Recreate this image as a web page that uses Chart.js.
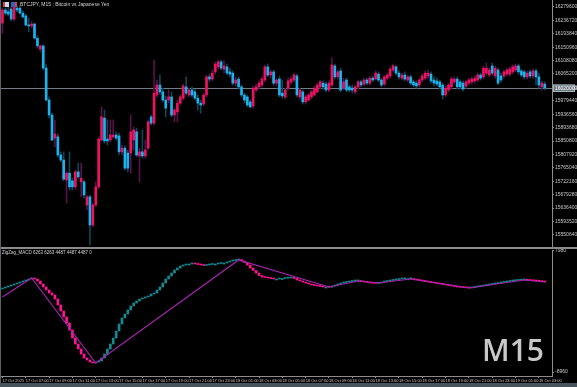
<!DOCTYPE html>
<html><head><meta charset="utf-8">
<script src="https://cdn.jsdelivr.net/npm/chart.js@4.4.1/dist/chart.umd.min.js"></script>
<style>
html,body{margin:0;padding:0;background:#000;width:577px;height:387px;overflow:hidden;}
#wrap{position:relative;width:577px;height:387px;background:#48545b;}
canvas{position:absolute;left:0;display:block;background:#000;}
#c1{top:0;} #c2{top:249px;}
.txt{position:absolute;font-family:"Liberation Sans",Arial,sans-serif;color:#d2d2d2;white-space:nowrap;line-height:1;}
</style></head>
<body><div id="wrap">
<canvas id="c1" width="577" height="247"></canvas>
<div style="position:absolute;left:0;top:247px;width:577px;height:2px;background:#8a8a8a;"></div>
<canvas id="c2" width="577" height="134"></canvas>
<div style="position:absolute;left:0;top:0;width:1px;height:383px;background:#5a6268;"></div>
<div style="position:absolute;left:3px;top:2px;width:6px;height:5px;background:#c8d8e8;border-left:2px solid #d04040;box-sizing:border-box;"></div>
<div style="position:absolute;left:11px;top:2px;width:6px;height:5px;background:#3060c0;border-right:2px solid #e04040;box-sizing:border-box;"></div>
<div class="txt" style="left:20px;top:2px;font-size:5px;">BTCJPY, M15 : Bitcoin vs Japanese Yen</div>
<div class="txt" style="left:2px;top:251px;font-size:4.5px;">ZigZag_MACD 6263 6263 4487 4487 4487 0</div>
<div class="txt" style="left:482px;top:335px;font-family:'Open Sans',sans-serif;font-weight:600;font-size:30px;line-height:30px;color:#c8c8c8;">M15</div>
</div>
<script>
// ---- price data (thousand JPY) ----
const opens = [16228,16270,16264,16273,16241,16276,16276,16260,16251,16222,
16219,16225,16180,16145,16155,16084,15982,15934,15860,15864,
15806,15790,15726,15748,15723,15704,15752,15720,15720,15646,
15672,15582,15646,15704,15854,15924,15857,15854,15864,15870,
15867,15816,15828,15812,15812,15854,15880,15803,15816,15803,
15828,15928,15908,15998,16030,16008,15982,15982,15992,15934,
15944,15972,15988,16024,15998,16014,16008,15988,15972,15969,
15998,16056,16049,16072,16088,16104,16081,16088,16072,16068,
16036,16049,16024,15998,15992,15976,15963,16014,16024,16030,
16046,16088,16062,16072,16036,16049,16004,15992,16020,16040,
16046,16059,15992,16008,15976,15982,15992,15998,16008,16024,
16036,16033,16014,16030,16091,16056,16075,16020,16046,16024,
16020,16008,16024,16040,16033,16046,16036,16052,16049,16065,
16046,16033,16052,16059,16078,16088,16068,16052,16062,16046,
16056,16040,16036,16030,16046,16052,16059,16065,16046,16043,
16040,16030,15998,16014,16024,16040,16049,16040,16036,16027,
16036,16040,16043,16046,16062,16056,16068,16062,16091,16059,
16078,16059,16059,16065,16065,16072,16078,16091,16075,16072,
16056,16072,16059,16075,16056,16024,16033];
const closes = [16270,16260,16257,16241,16280,16270,16260,16248,16222,16219,
16225,16180,16155,16155,16084,15982,15934,15854,15873,15806,
15790,15729,15748,15704,15704,15752,15736,15732,15678,15672,
15582,15646,15704,15857,15928,15851,15851,15870,15870,15860,
15816,15828,15764,15764,15880,15886,15806,15816,15803,15822,
15912,15908,16004,16030,16008,15982,15956,15992,15934,15950,
15972,15992,16027,16004,16014,15998,15988,15972,15966,15998,
16056,16049,16068,16097,16104,16084,16091,16068,16065,16036,
16046,16024,15998,15982,15966,15960,16020,16024,16036,16049,
16088,16062,16072,16036,16046,15998,15995,16014,16043,16049,
16062,15998,16014,15976,15992,15998,16008,16020,16030,16040,
16024,16014,16036,16094,16056,16072,16014,16040,16014,16014,
16014,16024,16040,16030,16046,16036,16052,16046,16068,16046,
16030,16056,16062,16081,16091,16068,16056,16062,16049,16056,
16036,16030,16027,16046,16059,16068,16068,16043,16036,16033,
16024,15998,16020,16030,16049,16049,16024,16024,16017,16040,
16046,16049,16052,16062,16052,16084,16084,16078,16068,16084,
16036,16046,16072,16078,16081,16088,16091,16072,16062,16056,
16068,16059,16075,16056,16030,16036,16020];
const highs = [16276,16276,16280,16280,16286,16283,16283,16267,16257,16244,
16235,16228,16187,16158,16158,16097,15992,15940,15918,15873,
15816,15816,15752,15816,15732,15758,15780,15780,15726,15678,
15678,15652,15720,15864,15960,15950,15918,15918,15918,15880,
15876,15838,15835,15822,15934,15896,15892,15828,15886,15854,
15918,15934,16110,16046,16062,16020,15995,16014,16008,15956,
15982,15998,16033,16056,16020,16024,16017,15998,15982,16004,
16062,16065,16078,16104,16110,16110,16107,16097,16084,16075,
16056,16056,16030,16004,15998,15982,16027,16033,16043,16056,
16094,16097,16078,16078,16052,16059,16046,16020,16052,16056,
16068,16065,16020,16014,15998,16004,16014,16027,16036,16046,
16043,16040,16043,16116,16097,16078,16084,16052,16052,16030,
16030,16030,16046,16046,16052,16052,16059,16059,16075,16072,
16052,16062,16068,16088,16097,16094,16075,16068,16072,16062,
16062,16046,16043,16052,16065,16075,16078,16072,16056,16052,
16046,16036,16027,16036,16056,16056,16056,16046,16043,16046,
16052,16056,16059,16068,16068,16091,16100,16084,16100,16091,
16084,16068,16078,16084,16088,16094,16097,16097,16081,16078,
16075,16078,16081,16081,16068,16043,16040];
const lows = [16196,16254,16251,16235,16235,16264,16257,16244,16219,16200,
16212,16177,16148,16136,16078,15979,15924,15851,15832,15800,
15784,15723,15652,15694,15694,15697,15729,15672,15668,15630,
15518,15576,15640,15697,15851,15844,15838,15848,15860,15854,
15806,15806,15758,15752,15748,15822,15800,15720,15796,15796,
15822,15902,15902,15992,16001,15976,15928,15972,15928,15912,
15912,15966,15982,15998,15992,15992,15982,15950,15940,15963,
15992,16040,16043,16065,16081,16078,16068,16062,16056,16030,
16027,16017,15992,15972,15960,15956,15956,16008,16017,16024,
16040,16056,16052,16030,16027,15992,15988,15985,16014,16033,
16040,15992,15985,15969,15969,15979,15985,15995,16004,16017,
16017,16008,16008,16024,16049,16049,16008,16014,16008,16008,
16004,16001,16017,16024,16027,16030,16030,16040,16046,16040,
16024,16027,16046,16052,16072,16062,16049,16046,16043,16040,
16030,16024,16020,16024,16040,16046,16052,16036,16027,16027,
16017,15985,15992,16008,16017,16033,16017,16017,16011,16020,
16030,16033,16036,16040,16046,16049,16062,16056,16062,16052,
16030,16040,16052,16059,16059,16065,16072,16065,16056,16049,
16049,16052,16052,16030,16020,16014,16014];

// ---- indicator data ----
const macd = [2800,2940,3080,3220,3360,3500,3640,3780,3920,4060,
4200,4060,3780,3360,2940,2520,2100,1820,1260,420,
-420,-1260,-2100,-3080,-4200,-5040,-5740,-6440,-7000,-7280,
-7560,-7700,-7560,-7420,-7000,-6440,-5740,-5040,-4200,-3220,
-2240,-1400,-840,-280,280,700,980,1260,1400,1540,
1680,1960,2100,2520,2940,3500,4060,4480,4900,5320,
5600,5880,6020,6160,6160,6230,6160,6090,6020,5950,
6020,6090,6160,6160,6230,6300,6300,6440,6580,6650,
6720,6790,6580,6370,6020,5600,5250,4900,4550,4340,
4270,4200,4130,4060,4060,4130,4130,4172,4200,4228,
4130,3920,3780,3640,3500,3360,3220,3150,3080,3010,
2940,2940,2912,3080,3220,3360,3500,3570,3640,3710,
3780,3794,3808,3710,3640,3570,3500,3472,3458,3500,
3640,3710,3780,3850,3920,3990,4060,4074,4088,4088,
4102,3990,3920,3850,3780,3710,3640,3570,3500,3430,
3360,3290,3220,3150,3080,3010,2940,2898,2856,2828,
2800,2870,2940,3010,3080,3150,3220,3290,3360,3430,
3500,3570,3640,3710,3780,3822,3864,3892,3920,3934,
3892,3850,3808,3780,3738,3696,3640];
const zigzagIdx = [0,10,32,81,112,122,129,140,160,179,186];
const zigzagVal = [1540,4200,-7700,6720,2940,3780,3500,4060,2800,3920,3640];

// ---- axis labels ----
const priceTickValues = [16279.60,16236.72,16193.84,16150.96,16108.08,16065.20,16022.32,15979.44,15936.56,15893.68,15850.80,15807.92,15765.04,15722.16,15679.28,15636.40,15593.52,15550.64];
const priceTickLabels = ["16279600","16236720","16193840","16150960","16108080","16065200","16022320","15979440","15936560","15893680","15850800","15807920","15765040","15722160","15679280","15636400","15593520","15550640"];
const indTickValues = [7980,-8960];
const indTickLabels = ["7980","-8960"];
const timeTickLabels = ["17 Oct 2025","17 Oct 07:00","17 Oct 09:00","17 Oct 11:00","17 Oct 13:00","17 Oct 15:00","17 Oct 17:00","17 Oct 19:00","17 Oct 21:00","17 Oct 23:00","18 Oct 01:00","18 Oct 03:00","18 Oct 05:00","18 Oct 07:00","18 Oct 09:00","18 Oct 11:00","18 Oct 13:00","18 Oct 15:00","18 Oct 17:00","18 Oct 19:00","18 Oct 21:00","18 Oct 23:00","19 Oct 01:00","19 Oct 03:00"];
const timeTickEvery = 8;

// categories: 15-minute bars starting 17 Oct 2025 05:00, plus 2 empty slots (chart shift)
const NBARS = opens.length, NCAT = NBARS + 2;
const categories = [];
for (let i = 0; i < NCAT; i++) {
  const t = new Date(Date.UTC(2025, 9, 17, 5, 0) + i * 900000);
  categories.push(t.toISOString().slice(0,16));
}

const UP_BODY = '#ee1262', DN_BODY = '#1cb2ee', UP_WICK = '#5a1048', DN_WICK = '#0d4658';
const TEAL = '#15898f', PINK = '#ff1493', ZZ = '#a424ac';
const AXIS = '#8c8c8c', TXT = '#c8c8c8';
const FONT = 'Liberation Sans';

const isUp = i => closes[i] >= opens[i];

const mainDecor = {
  id: 'mainDecor',
  beforeDatasetsDraw(chart) {
    const {ctx, chartArea, scales} = chart;
    const y = Math.round(scales.y.getPixelForValue(closes[NBARS-1])) + 0.5;
    ctx.save(); ctx.strokeStyle = '#737c84'; ctx.lineWidth = 1;
    ctx.beginPath(); ctx.moveTo(chartArea.left, y); ctx.lineTo(chartArea.right, y); ctx.stroke(); ctx.restore();
  },
  afterDraw(chart) {
    const {ctx, chartArea, scales} = chart;
    const v = closes[NBARS-1];
    const y = Math.round(scales.y.getPixelForValue(v));
    ctx.save();
    ctx.fillStyle = '#6b7781'; ctx.fillRect(chartArea.right + 1, y - 3.5, 22, 7);
    ctx.strokeStyle = '#a9b3bb'; ctx.lineWidth = 1; ctx.strokeRect(chartArea.right + 1.5, y - 3, 21, 6.5);
    ctx.fillStyle = '#ffffff'; ctx.font = '5px ' + FONT; ctx.textBaseline = 'middle';
    ctx.fillText(String(Math.round(v * 1000)), chartArea.right + 3, y + 0.5);
    ctx.restore();
  }
};

new Chart(document.getElementById('c1'), {
  type: 'bar',
  data: {
    labels: categories,
    datasets: [
      { label: 'wick', data: lows.map((l, i) => [l, highs[i]]), barThickness: 1, grouped: false, order: 2,
        backgroundColor: lows.map((l, i) => isUp(i) ? UP_WICK : DN_WICK), borderWidth: 0 },
      { label: 'body', data: opens.map((o, i) => [o, closes[i]]), barThickness: 2, grouped: false, order: 1, minBarLength: 1,
        backgroundColor: opens.map((o, i) => isUp(i) ? UP_BODY : DN_BODY), borderWidth: 0 }
    ]
  },
  options: {
    responsive: false, animation: false, devicePixelRatio: 1,
    layout: { padding: { left: 1, right: 0, top: 0, bottom: 0 } },
    plugins: { legend: { display: false }, tooltip: { enabled: false } },
    scales: {
      x: { type: 'category', display: false, offset: true },
      y: {
        position: 'right', min: 15511.6, max: 16302,
        afterFit(s) { s.width = 25; s.paddingTop = 0; s.paddingBottom = 0; },
        afterBuildTicks(s) { s.ticks = priceTickValues.map(v => ({ value: v })); },
        ticks: { autoSkip: false, callback: (v, i) => priceTickLabels[i], font: { size: 5, family: FONT }, color: TXT, padding: 1 },
        grid: { drawOnChartArea: false, drawTicks: true, tickLength: 2, color: AXIS },
        border: { display: true, color: AXIS, width: 1 }
      }
    }
  },
  plugins: [mainDecor]
});

const zigzag = categories.map(() => null);
zigzagIdx.forEach((k, j) => { zigzag[k] = zigzagVal[j]; });
const dotBars = macd.map((v, i) => [i ? macd[i-1] : v, v]);
const dotColors = macd.map((v, i) => (i === 0 || v >= macd[i-1]) ? TEAL : PINK);

new Chart(document.getElementById('c2'), {
  type: 'bar',
  data: {
    labels: categories,
    datasets: [
      { type: 'line', label: 'zigzag', data: zigzag, spanGaps: true, borderColor: ZZ, borderWidth: 1.2,
        pointRadius: 0, tension: 0, order: 1 },
      { type: 'bar', label: 'macd', data: dotBars, barThickness: 2, minBarLength: 1, grouped: false,
        backgroundColor: dotColors, borderWidth: 0, order: 2 }
    ]
  },
  options: {
    responsive: false, animation: false, devicePixelRatio: 1,
    layout: { padding: { left: 1, right: 0, top: 1, bottom: 0 } },
    plugins: { legend: { display: false }, tooltip: { enabled: false } },
    scales: {
      x: {
        type: 'category', offset: true,
        afterFit(s) { s.height = 7; s.paddingLeft = 0; s.paddingRight = 0; },
        afterBuildTicks(s) { s.ticks = timeTickLabels.map((t, k) => ({ value: k * timeTickEvery })); },
        ticks: { autoSkip: false, maxRotation: 0, minRotation: 0, align: 'start', padding: 0,
          callback: (v) => timeTickLabels[v / timeTickEvery], font: { size: 4, family: FONT }, color: TXT },
        grid: { drawOnChartArea: false, drawTicks: true, tickLength: 2, offset: false, color: AXIS },
        border: { display: true, color: AXIS, width: 1 }
      },
      y: {
        position: 'right', min: -9520, max: 8120,
        afterFit(s) { s.width = 25; s.paddingTop = 0; s.paddingBottom = 0; },
        afterBuildTicks(s) { s.ticks = indTickValues.map(v => ({ value: v })); },
        ticks: { autoSkip: false, callback: (v, i) => indTickLabels[i], font: { size: 5, family: FONT }, color: TXT, padding: 1 },
        grid: { drawOnChartArea: false, drawTicks: true, tickLength: 2, color: AXIS },
        border: { display: true, color: AXIS, width: 1 }
      }
    }
  }
});
</script>
</body></html>
